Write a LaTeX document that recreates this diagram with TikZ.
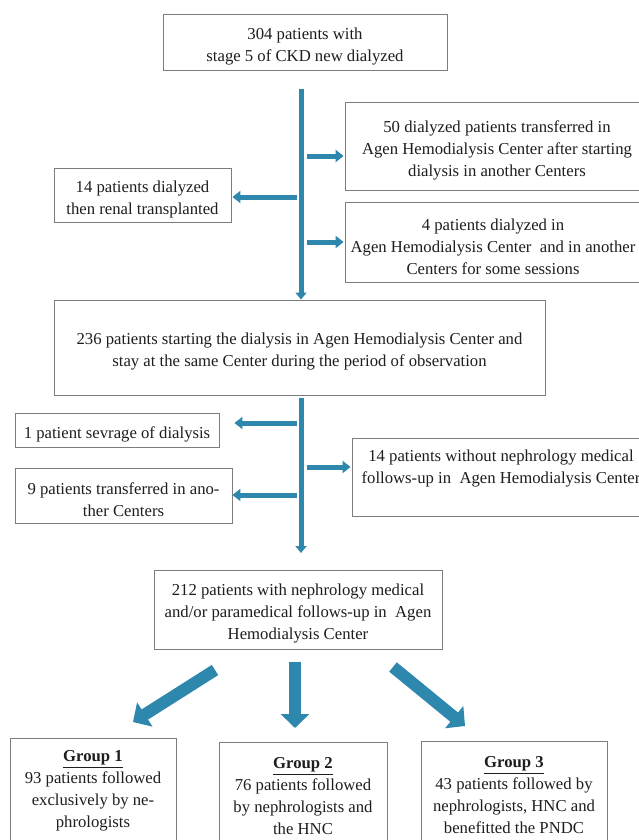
\documentclass[tikz,border=0pt]{standalone}
\usepackage{fontspec}
\setmainfont{Liberation Serif}
\usetikzlibrary{arrows.meta}
\definecolor{arrowc}{RGB}{46,135,172}
\definecolor{boxc}{RGB}{125,125,125}
\definecolor{txtc}{RGB}{30,30,30}
\newcommand{\myfirst}{\rule{0pt}{20.5pt}}
\begin{document}
\begin{tikzpicture}[x=1pt,y=-1pt,
  box/.style={draw=boxc, line width=0.9pt, align=center, text=txtc,
    font=\fontsize{16.7}{22}\selectfont, inner sep=0pt},
  thinarrow/.style={draw=arrowc, line width=5pt, -{Triangle[width=12pt,length=8pt]}},
  mainline/.style={draw=arrowc, line width=5pt, -{Triangle[width=11pt,length=7pt]}},
  bigarrow/.style={draw=arrowc, line width=12pt, -{Triangle[width=28pt,length=14pt]}},
]
\useasboundingbox (0,0) rectangle (639,840);
\clip (0,0) rectangle (639,840);
\fill[white] (0,0) rectangle (639,840);

% boxes
\node[box, minimum width=284pt, minimum height=56pt] (top) at (305,42)
  {\myfirst 304 patients with\\stage 5 of CKD new dialyzed};
\node[box, minimum width=304pt, minimum height=88pt] (A) at (497,146)
  {\myfirst 50 dialyzed patients transferred in\\Agen Hemodialysis Center after starting\\dialysis in another Centers};
\node[box, minimum width=177pt, minimum height=54pt] (L1) at (142.5,195)
  {\myfirst 14 patients dialyzed\\then renal transplanted};
\node[box, minimum width=296pt, minimum height=80pt] (B) at (493,242)
  {\myfirst 4 patients dialyzed in\\Agen Hemodialysis Center\ \ and in another\\Centers for some sessions};
\node[box, minimum width=491pt, minimum height=95pt] (M) at (299.5,347.5)
  {\myfirst 236 patients starting the dialysis in Agen Hemodialysis Center and\\stay at the same Center during the period of observation};
\node[box, minimum width=204pt, minimum height=34pt] (L2) at (117,430)
  {\myfirst 1 patient sevrage of dialysis};
\node[box, minimum width=217pt, minimum height=55pt] (L3) at (123.5,495.5)
  {\myfirst 9 patients transferred in ano-\\ther Centers};
\node[box, minimum width=298pt, minimum height=78pt] (R) at (501,477)
  {\myfirst 14 patients without nephrology medical\\follows-up in\ \ Agen Hemodialysis Center\\ \strut};
\node[box, minimum width=288pt, minimum height=79pt] (F) at (298,609.5)
  {\myfirst 212 patients with nephrology medical\\and/or paramedical follows-up in\ \ Agen\\Hemodialysis Center};
\node[box, anchor=north, minimum width=166pt, inner ysep=3pt] (G1) at (93,738)
  {\myfirst\textbf{\underline{Group 1}}\\93 patients followed\\exclusively by ne-\\phrologists\\ \strut};
\node[box, anchor=north, minimum width=168pt, inner ysep=6pt] (G2) at (303,742)
  {\myfirst\textbf{\underline{Group 2}}\\76 patients followed\\by nephrologists and\\the HNC\\ \strut};
\node[box, anchor=north, minimum width=186pt, inner ysep=6pt] (G3) at (514,741)
  {\myfirst\textbf{\underline{Group 3}}\\43 patients followed by\\nephrologists, HNC and\\benefitted the PNDC\\ \strut};

% coordinates for connector ends
\coordinate (v1s) at (301,89);
\coordinate (v2s) at (301,398);
\coordinate (v2e) at (301,553);
\coordinate (cA) at (307,156);
\coordinate (cL1) at (297,197);
\coordinate (cB) at (307,242);
\coordinate (cL2) at (297,423);
\coordinate (cL3) at (297,495);
\coordinate (cR) at (307,467);
\coordinate (g1s) at (215,670);
\coordinate (g1e) at (133,722);
\coordinate (g2s) at (295,662);
\coordinate (g2e) at (295,728);
\coordinate (g3s) at (393,667);
\coordinate (g3e) at (465,726);

% main vertical connectors
\draw[mainline] (v1s) -- (v1s |- M.north);
\draw[mainline] (v2s) -- (v2e);

% side arrows
\draw[thinarrow, shorten >=1pt] (cA) -- (A.west |- cA);
\draw[thinarrow, shorten >=1pt] (cL1) -- (L1.east |- cL1);
\draw[thinarrow, shorten >=1pt] (cB) -- (B.west |- cB);
\draw[thinarrow] (cL2) -- ([xshift=15pt]L2.east |- cL2);
\draw[thinarrow] (cL3) -- (L3.east |- cL3);
\draw[thinarrow, shorten >=1pt] (cR) -- (R.west |- cR);

% group arrows
\draw[bigarrow] (g1s) -- (g1e);
\draw[bigarrow] (g2s) -- (g2e);
\draw[bigarrow] (g3s) -- (g3e);
\end{tikzpicture}
\end{document}
